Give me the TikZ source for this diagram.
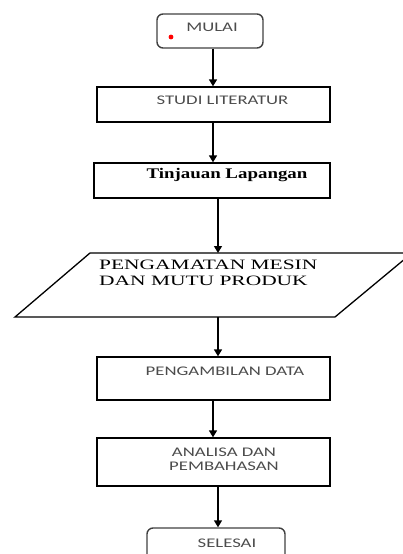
\documentclass[tikz,border=0pt]{standalone}
\usepackage{fontspec}
\usepackage{graphicx}
\setmainfont{Liberation Serif}
\newfontfamily\calib{Carlito}
\usetikzlibrary{arrows.meta}
\newcommand{\sst}[1]{\scalebox{1.56}[1.1]{#1}}
\begin{document}
\begin{tikzpicture}[x=1pt,y=-1pt,
  box/.style={draw=black, line width=1.3pt, minimum width=233pt, inner sep=0pt},
  term/.style={draw=black!75, line width=1.4pt, rounded corners=6pt, inner sep=0pt},
  stxt/.style={font=\calib\fontsize{12}{14}\selectfont, text=black!70, inner sep=0pt, align=center},
  rtxt/.style={font=\fontsize{14}{15}\selectfont, text=black, inner sep=0pt},
  arr/.style={line width=1.4pt, -{Triangle[width=8pt,length=7pt]}}]
\useasboundingbox (0,0) rectangle (403,554);
\clip (0,0) rectangle (403,554);
% start
\node[term, minimum width=106pt, minimum height=34pt] (mulai) at (210,31) {};
\node[stxt] (mulaiT) at (212,27) {\sst{MULAI}};
\fill[red] (171,37) circle (2.4pt);
% studi
\node[box, minimum height=35pt] (studi) at (213.5,104.5) {};
\node[stxt] (studiT) at (222.5,100) {\sst{STUDI LITERATUR}};
% tinjauan
\node[box, minimum width=236pt, minimum height=35pt] (tinj) at (212,180.5) {};
\node[rtxt] (tinjT) at (227,175) {\scalebox{1.35}[1.05]{\textbf{Tinjauan Lapangan}}};
% parallelogram
\draw[line width=1.3pt] (90,253) -- (412,253) -- (335,317) -- (15,317) -- cycle;
\coordinate (parTop) at (218,253);
\coordinate (parBot) at (218,317);
\node[rtxt, anchor=north west, align=left, font=\fontsize{13}{16}\selectfont] (parT) at (99,260) {\scalebox{1.65}[1.1]{PENGAMATAN MESIN}\\\scalebox{1.65}[1.1]{DAN MUTU PRODUK}};
% pengambilan
\node[box, minimum height=43pt] (ambil) at (213.5,378.5) {};
\node[stxt] (ambilT) at (225,371) {\sst{PENGAMBILAN DATA}};
% analisa
\node[box, minimum height=48pt] (anal) at (213.5,462) {};
\node[stxt] (analT) at (224,459) {\sst{ANALISA DAN}\\\sst{PEMBAHASAN}};
% end
\node[term, minimum width=138pt, minimum height=40pt] (selesai) at (216,548) {};
\node[stxt] (selesaiT) at (227,543) {\sst{SELESAI}};
% arrows
\draw[arr] (mulai.south -| 213,0) -- (studi.north -| 213,0);
\draw[arr] (studi.south -| 213,0) -- (tinj.north -| 213,0);
\draw[arr] (tinj.south -| 218,0) -- (parTop);
\draw[arr] (parBot) -- (ambil.north -| 218,0);
\draw[arr] (ambil.south -| 213,0) -- (anal.north -| 213,0);
\draw[arr] (anal.south -| 218,0) -- (selesai.north -| 218,0);
\end{tikzpicture}
\end{document}
